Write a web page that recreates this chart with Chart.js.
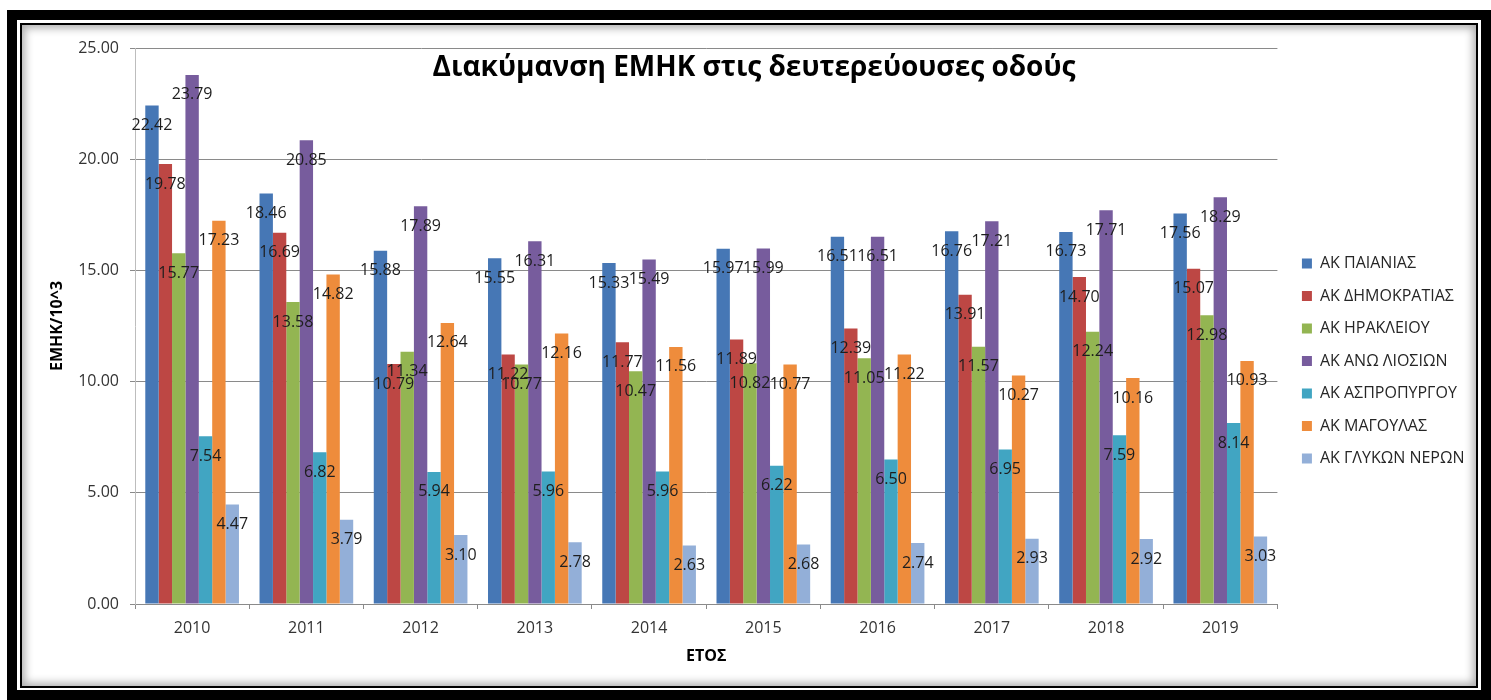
<!DOCTYPE html>
<html>
<head>
<meta charset="utf-8">
<title>Διακύμανση ΕΜΗΚ</title>
<script src="https://cdn.jsdelivr.net/npm/chart.js@4.4.1/dist/chart.umd.min.js"></script>
<style>
  html, body { margin: 0; padding: 0; background: #fff; }
  body { width: 1491px; height: 700px; position: relative; overflow: hidden; }
  /* heavy black outer frame with a thin inner rule */
  #frame {
    position: absolute; left: 7px; top: 10px; width: 1484px; height: 690px;
    box-sizing: border-box; border: 10px solid #000; background: #fff;
  }
  #frame .inner {
    position: absolute; left: 3px; top: 3px; right: 3px; bottom: 2px;
    border: 2px solid #000;
    box-shadow: inset 0 0 9px 3px rgba(0, 0, 0, 0.32);
  }
  #chart { position: absolute; left: 0; top: 0; z-index: 2; }
</style>
</head>
<body>
<div id="frame"><div class="inner"></div></div>
<canvas id="chart" width="1491" height="700"></canvas>
<script>
const years = ["2010", "2011", "2012", "2013", "2014", "2015", "2016", "2017", "2018", "2019"];

const paianias     = [22.42, 18.46, 15.88, 15.55, 15.33, 15.97, 16.51, 16.76, 16.73, 17.56];
const dimokratias  = [19.78, 16.69, 10.79, 11.22, 11.77, 11.89, 12.39, 13.91, 14.70, 15.07];
const irakleiou    = [15.77, 13.58, 11.34, 10.77, 10.47, 10.82, 11.05, 11.57, 12.24, 12.98];
const anoLiosion   = [23.79, 20.85, 17.89, 16.31, 15.49, 15.99, 16.51, 17.21, 17.71, 18.29];
const aspropyrgou  = [7.54, 6.82, 5.94, 5.96, 5.96, 6.22, 6.50, 6.95, 7.59, 8.14];
const magoulas     = [17.23, 14.82, 12.64, 12.16, 11.56, 10.77, 11.22, 10.27, 10.16, 10.93];
const glykonNeron  = [4.47, 3.79, 3.10, 2.78, 2.63, 2.68, 2.74, 2.93, 2.92, 3.03];

const yTicks = [0, 5, 10, 15, 20, 25];

const chartTitle = "Διακύμανση ΕΜΗΚ στις δευτερεύουσες οδούς";
const yTitle = "ΕΜΗΚ/10^3";
const xTitle = "ΕΤΟΣ";

const FONT = "'Open Sans', 'Noto Sans', sans-serif";

// value printed just inside the top of each bar
const barValueLabels = {
  id: "barValueLabels",
  afterDatasetsDraw(chart) {
    const ctx = chart.ctx;
    ctx.save();
    ctx.font = "16px " + FONT;
    ctx.fillStyle = "#1e1e1e";
    ctx.textAlign = "center";
    ctx.textBaseline = "middle";
    chart.data.datasets.forEach((ds, i) => {
      chart.getDatasetMeta(i).data.forEach((bar, j) => {
        ctx.fillText(ds.data[j].toFixed(2), bar.x, bar.y + 20);
      });
    });
    ctx.restore();
  },
};

// title sits over the top of the plot area
const overlayTitle = {
  id: "overlayTitle",
  afterDraw(chart) {
    const ctx = chart.ctx;
    ctx.save();
    ctx.font = "bold 28px " + FONT;
    ctx.fillStyle = "#000";
    ctx.textAlign = "center";
    ctx.textBaseline = "middle";
    ctx.fillText(chartTitle, 754, 68);
    ctx.restore();
  },
};

// nudge the legend a little away from the plot
const legendNudge = {
  id: "legendNudge",
  afterLayout(chart) {
    const lg = chart.legend;
    if (!lg) return;
    lg.left += 8;
    lg.right += 8;
    lg.top -= 3;
    lg.bottom -= 3;
  },
};

function draw() {
  const ctx = document.getElementById("chart").getContext("2d");
  const grid = "#8a8a8a";

  const series = [
    ["ΑΚ ΠΑΙΑΝΙΑΣ", paianias, "#4677b5"],
    ["ΑΚ ΔΗΜΟΚΡΑΤΙΑΣ", dimokratias, "#bd4744"],
    ["ΑΚ ΗΡΑΚΛΕΙΟΥ", irakleiou, "#93b552"],
    ["ΑΚ ΑΝΩ ΛΙΟΣΙΩΝ", anoLiosion, "#775c9d"],
    ["ΑΚ ΑΣΠΡΟΠΥΡΓΟΥ", aspropyrgou, "#41a5c2"],
    ["ΑΚ ΜΑΓΟΥΛΑΣ", magoulas, "#ee8c3c"],
    ["ΑΚ ΓΛΥΚΩΝ ΝΕΡΩΝ", glykonNeron, "#93afd8"],
  ];

  new Chart(ctx, {
    type: "bar",
    data: {
      labels: years,
      datasets: series.map(([label, data, color]) => ({
        label,
        data,
        backgroundColor: color,
        borderWidth: 0,
        categoryPercentage: 0.82,
        barPercentage: 1.0,
      })),
    },
    options: {
      responsive: false,
      animation: false,
      layout: { padding: { left: 40, top: 48, right: 24.5, bottom: 20 } },
      plugins: {
        title: { display: false },
        tooltip: { enabled: false },
        legend: {
          position: "right",
          labels: {
            boxWidth: 10,
            boxHeight: 10,
            padding: 16.5,
            color: "#262626",
            font: { family: FONT, size: 16 },
          },
        },
      },
      scales: {
        x: {
          grid: {
            display: true,
            drawOnChartArea: false,
            drawTicks: true,
            tickLength: 5,
            color: grid,
          },
          border: { color: grid },
          ticks: { color: "#333", padding: 10, font: { family: FONT, size: 16 } },
          title: {
            display: true,
            text: xTitle,
            color: "#000",
            font: { family: FONT, size: 16, weight: "bold" },
            padding: { top: 0, bottom: 14 },
          },
          afterFit(scale) { scale.height = 76; },
        },
        y: {
          min: 0,
          max: 25,
          afterBuildTicks(scale) { scale.ticks = yTicks.map((v) => ({ value: v })); },
          grid: { color: grid, drawTicks: true, tickLength: 5 },
          border: { color: "#bdbdbd" },
          ticks: {
            color: "#333",
            padding: 11,
            font: { family: FONT, size: 16 },
            callback: (v) => Number(v).toFixed(2),
          },
          title: {
            display: true,
            text: yTitle,
            color: "#000",
            font: { family: FONT, size: 16, weight: "bold" },
            padding: { top: 8, bottom: 0 },
          },
          afterFit(scale) { scale.width = 95; },
        },
      },
    },
    plugins: [barValueLabels, overlayTitle, legendNudge],
  });
}

Promise.all([
  document.fonts.load("16px 'Open Sans'"),
  document.fonts.load("bold 16px 'Open Sans'"),
]).then(draw, draw);
</script>
</body>
</html>
